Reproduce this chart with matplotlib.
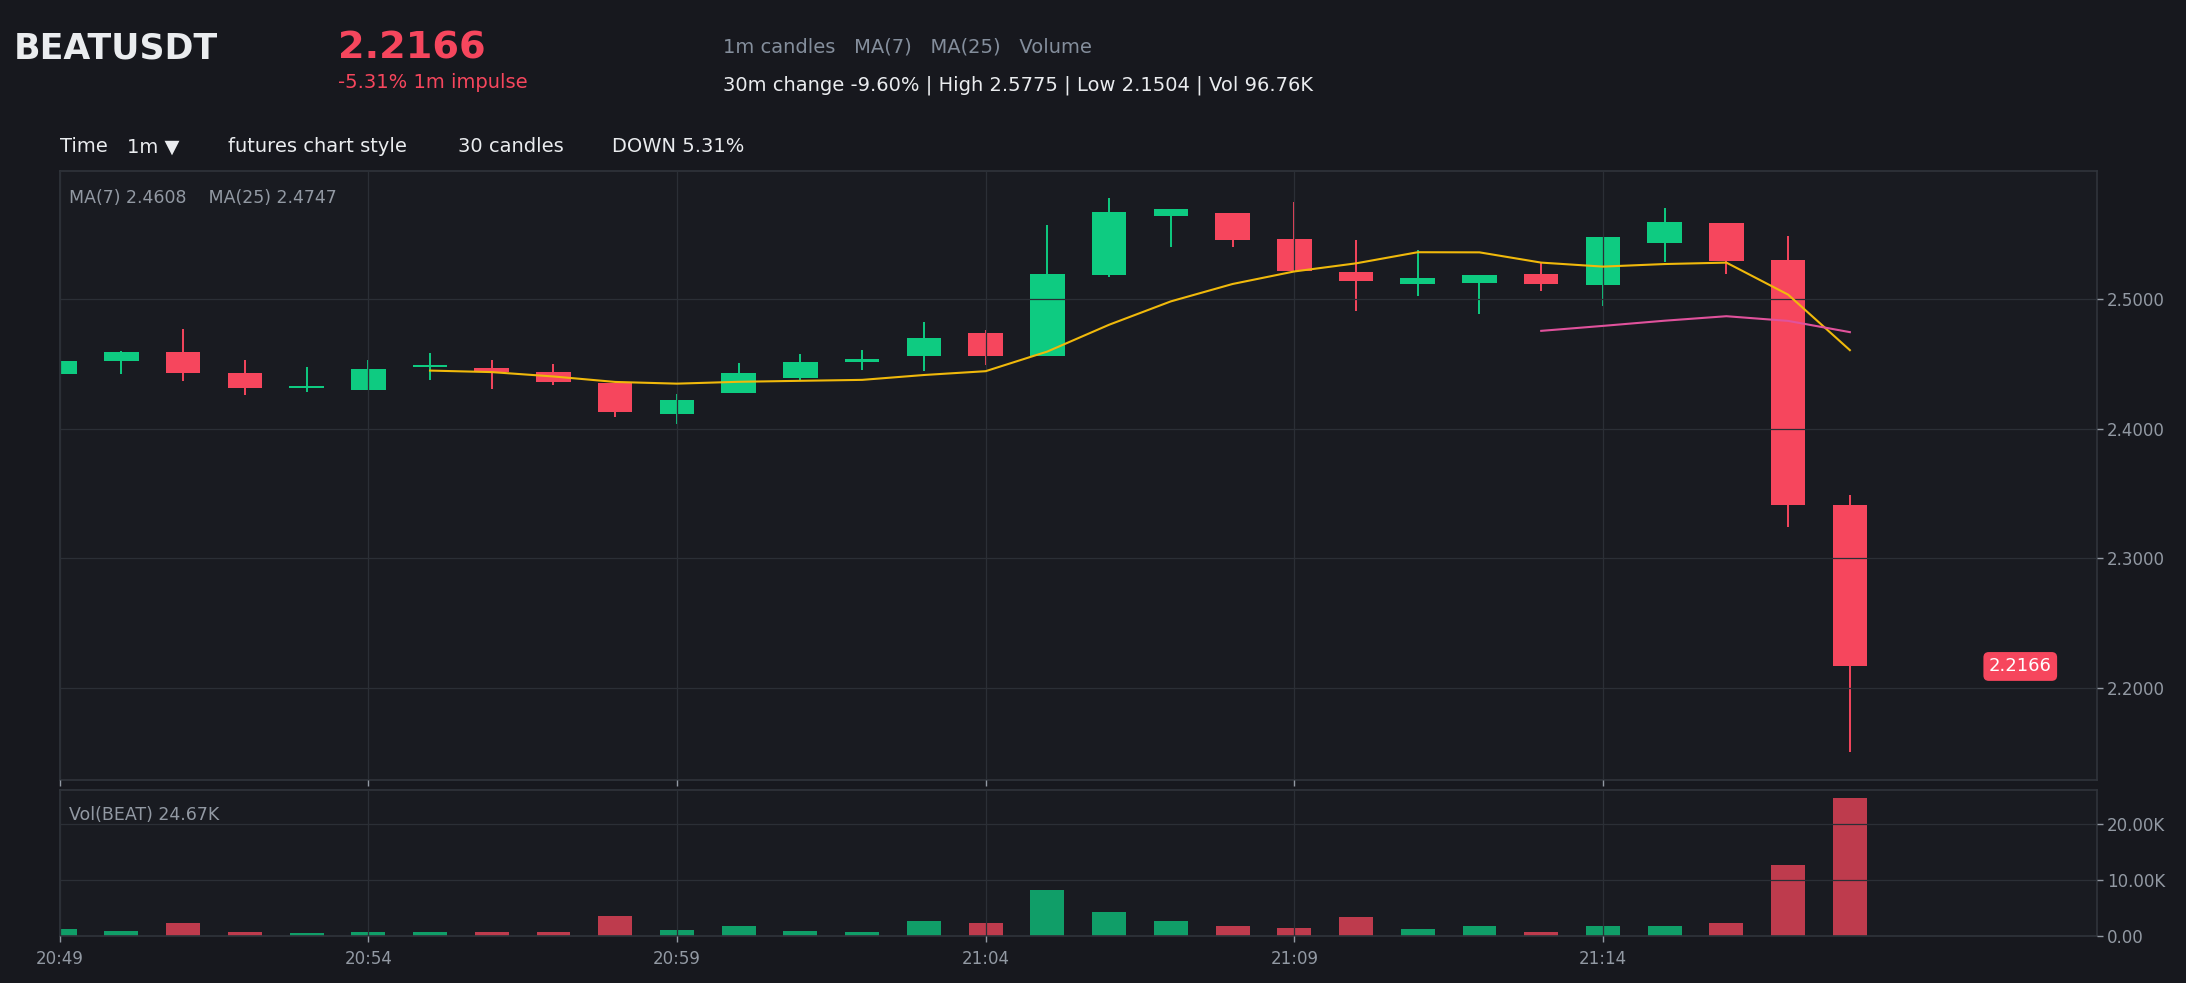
import numpy as np
import pandas as pd
import matplotlib
matplotlib.use("Agg")
import matplotlib.pyplot as plt
from matplotlib.ticker import FuncFormatter

# ------------------------------------------------------------------
# 1m candles, BEATUSDT
# ------------------------------------------------------------------
times = ["20:49", "20:50", "20:51", "20:52", "20:53", "20:54", "20:55", "20:56",
         "20:57", "20:58", "20:59", "21:00", "21:01", "21:02", "21:03", "21:04",
         "21:05", "21:06", "21:07", "21:08", "21:09", "21:10", "21:11", "21:12",
         "21:13", "21:14", "21:15", "21:16", "21:17", "21:18"]

opens = [2.4418, 2.4520, 2.4590, 2.4432, 2.4315, 2.4300, 2.4477, 2.4469, 2.4436, 2.4349,
         2.4115, 2.4277, 2.4392, 2.4515, 2.4562, 2.4738, 2.4562, 2.5185, 2.5638, 2.5662,
         2.5462, 2.5208, 2.5115, 2.5123, 2.5192, 2.5108, 2.5431, 2.5585, 2.5300, 2.3409]
highs = [2.4535, 2.4595, 2.4769, 2.4531, 2.4477, 2.4531, 2.4585, 2.4531, 2.4500, 2.4349,
         2.4269, 2.4508, 2.4577, 2.4608, 2.4823, 2.4762, 2.5569, 2.5775, 2.5692, 2.5662,
         2.5746, 2.5454, 2.5377, 2.5185, 2.5285, 2.5477, 2.5700, 2.5585, 2.5485, 2.3491]
lows = [2.4410, 2.4418, 2.4364, 2.4256, 2.4280, 2.4300, 2.4372, 2.4308, 2.4338, 2.4087,
        2.4038, 2.4277, 2.4377, 2.4454, 2.4446, 2.4492, 2.4562, 2.5167, 2.5403, 2.5403,
        2.5215, 2.4910, 2.5023, 2.4885, 2.5062, 2.4946, 2.5285, 2.5192, 2.3239, 2.1504]
closes = [2.4520, 2.4592, 2.4426, 2.4315, 2.4331, 2.4462, 2.4487, 2.4438, 2.4356, 2.4131,
          2.4223, 2.4431, 2.4515, 2.4538, 2.4700, 2.4562, 2.5192, 2.5669, 2.5692, 2.5454,
          2.5215, 2.5138, 2.5162, 2.5185, 2.5115, 2.5477, 2.5592, 2.5292, 2.3409, 2.2166]
volumes_k = [1.26, 0.90, 2.34, 0.72, 0.54, 0.72, 0.72, 0.72, 0.72, 3.60,
             1.08, 1.80, 0.90, 0.72, 2.70, 2.34, 8.29, 4.32, 2.70, 1.80,
             1.44, 3.42, 1.26, 1.80, 0.72, 1.80, 1.80, 2.34, 12.79, 24.67]

# values shown in the legend / header
ma7_last = 2.4608
ma25_last = 2.4747

# colours
BG = "#17181e"
AX_BG = "#191b21"
GRID = "#2b2f36"
UP = "#0ecb81"
DOWN = "#f6465d"
TXT = "#eaecef"
MUTED = "#9299a3"
MA7_C = "#f0b90b"
MA25_C = "#e0529c"

df = pd.DataFrame({"open": opens, "high": highs, "low": lows,
                   "close": closes, "vol": volumes_k})
df["ma7"] = df["close"].rolling(7).mean()
df["ma25"] = df["close"].rolling(25).mean()
x = np.arange(len(df))
up = df["close"] >= df["open"]
colors = np.where(up, UP, DOWN)

fig = plt.figure(figsize=(21.86, 9.83), dpi=100, facecolor=BG)
ax = fig.add_axes([0.02727, 0.2065, 0.93193, 0.6198], facecolor=AX_BG)
axv = fig.add_axes([0.02727, 0.0478, 0.93193, 0.1485], facecolor=AX_BG, sharex=ax)

# ---- candles ----
ax.vlines(x, df["low"], df["high"], colors=colors, linewidth=1.4, zorder=1)
body_lo = np.minimum(df["open"], df["close"])
body_h = np.maximum(np.abs(df["close"] - df["open"]), 0.0006)
ax.bar(x, body_h, bottom=body_lo, width=0.56, color=colors, linewidth=0, zorder=1)

ax.plot(x, df["ma7"], color=MA7_C, linewidth=1.5, zorder=3)
ax.plot(x, df["ma25"], color=MA25_C, linewidth=1.5, zorder=3)

rng = df["high"].max() - df["low"].min()
ax.set_ylim(df["low"].min() - 0.05 * rng, df["high"].max() + 0.05 * rng)
ax.set_xlim(0, 33)

# last price tag
last = df["close"].iloc[-1]
ax.text(31.76, last, f"{last:.4f}", color="white", fontsize=13,
        ha="center", va="center", zorder=5,
        bbox=dict(boxstyle="round,pad=0.3,rounding_size=0.3", fc=DOWN, ec="none"))

# ---- volume ----
axv.bar(x, df["vol"], width=0.55, color=colors, alpha=0.75, linewidth=0, zorder=1)
axv.set_ylim(0, df["vol"].max() * 1.06)
axv.set_yticks([0, 10, 20])
axv.yaxis.set_major_formatter(FuncFormatter(lambda v, p: "0.00" if v == 0 else f"{v:.2f}K"))

# ---- axes styling ----
tick_idx = [0, 5, 10, 15, 20, 25]
for a in (ax, axv):
    a.set_axisbelow(False)
    a.grid(True, color=GRID, linewidth=0.9)
    a.yaxis.tick_right()
    a.tick_params(axis="both", colors=MUTED, labelsize=12, length=4, width=1,
                  labelcolor=MUTED)
    a.set_xticks(tick_idx)
    for s in a.spines.values():
        s.set_color("#30343b")
        s.set_linewidth(1.2)

ax.set_yticks([2.2, 2.3, 2.4, 2.5])
ax.yaxis.set_major_formatter(FuncFormatter(lambda v, p: f"{v:.4f}"))
ax.tick_params(axis="x", labelbottom=False)
axv.set_xticklabels([times[i] for i in tick_idx])
axv.tick_params(axis="x", pad=6)

# ---- header text ----
fig.text(0.0065, 0.9407, "BEATUSDT", color=TXT, fontsize=25, fontweight="bold")
fig.text(0.1544, 0.9407, f"{last:.4f}", color=DOWN, fontsize=27.5, fontweight="bold")
fig.text(0.1544, 0.9101, "-5.31% 1m impulse", color=DOWN, fontsize=14)
fig.text(0.3308, 0.9464, "1m candles   MA(7)   MA(25)   Volume", color="#848e9c", fontsize=14)
fig.text(0.3308, 0.9084, "30m change -9.60% | High 2.5775 | Low 2.1504 | Vol 96.76K",
         color=TXT, fontsize=14)

fig.text(0.0273, 0.845, "Time", color=TXT, fontsize=14)
fig.text(0.0579, 0.845, "1m \u25BC", color=TXT, fontsize=14)
fig.text(0.1043, 0.845, "futures chart style", color=TXT, fontsize=14)
fig.text(0.2094, 0.845, "30 candles", color=TXT, fontsize=14)
fig.text(0.2800, 0.845, "DOWN 5.31%", color=TXT, fontsize=14)

fig.text(0.0315, 0.7932, f"MA(7) {ma7_last:.4f}    MA(25) {ma25_last:.4f}",
         color=MUTED, fontsize=12.5)
fig.text(0.0315, 0.1658, f"Vol(BEAT) {df['vol'].iloc[-1]:.2f}K", color=MUTED, fontsize=12.5)

fig.savefig("out.png", dpi=100, facecolor=BG)
